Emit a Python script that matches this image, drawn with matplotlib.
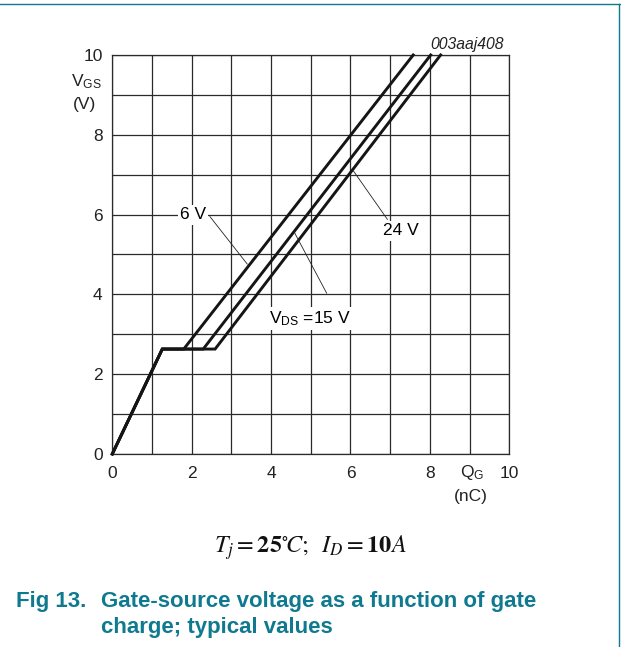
import matplotlib
matplotlib.use("Agg")
import matplotlib.pyplot as plt
from matplotlib.lines import Line2D
import numpy as np

# ---------------- data ----------------
# charge points (nC) of each curve: origin, plateau start, plateau end, top
curve_labels = ["6 V", "15 V", "24 V"]
qg_6v = [0.0, 1.26, 1.80, 7.58]
qg_15v = [0.0, 1.26, 2.29, 8.02]
qg_24v = [0.0, 1.26, 2.59, 8.27]
vgs_pts = [0.0, 2.63, 2.63, 10.0]

x_ticks = [0, 2, 4, 6, 8, 10]
x_tick_labels = ["0", "2", "4", "6", "8", "10"]
y_ticks = [0, 2, 4, 6, 8, 10]
y_tick_labels = ["0", "2", "4", "6", "8", "10"]

# annotation text positions and leader line ends (data units)
lbl_6v_text = (2.04, 5.99)
lbl_6v_leader = ([2.46, 3.40], [5.95, 4.76])
lbl_15v_text = (4.98, 3.40)
lbl_15v_leader = ([5.40, 4.60], [4.03, 5.53])
lbl_24v_text = (7.26, 5.59)
lbl_24v_leader = ([6.93, 6.07], [5.88, 7.10])

plt.rcParams['mathtext.fontset'] = 'custom'
plt.rcParams['mathtext.rm'] = 'Liberation Sans'
plt.rcParams['mathtext.it'] = 'Liberation Sans:italic'
plt.rcParams['mathtext.bf'] = 'Liberation Sans:bold'
plt.rcParams['font.family'] = ['Liberation Sans', 'DejaVu Sans']

TEAL = '#0f7a8f'
GRID = '#2a2a2a'

fig = plt.figure(figsize=(6.21, 6.47), dpi=100)
ax = fig.add_axes([0.1808, 0.2983, 0.6393, 0.6167])
ax.set_xlim(0, 10)
ax.set_ylim(0, 10)

# grid
for s in ax.spines.values():
    s.set_color(GRID)
    s.set_linewidth(0.9)
ax.set_xticks(x_ticks)
ax.set_xticklabels(x_tick_labels)
ax.set_yticks(y_ticks)
ax.set_yticklabels(y_tick_labels)
ax.set_xticks(np.arange(0, 11, 1), minor=True)
ax.set_yticks(np.arange(0, 11, 1), minor=True)
ax.grid(True, which='both', color=GRID, linewidth=0.9, zorder=0)
ax.set_axisbelow(True)
ax.tick_params(which='both', length=0)
ax.tick_params(axis='x', pad=9, labelsize=12.5, colors='#222222')
ax.tick_params(axis='y', pad=7, labelsize=12.5, colors='#222222')

# curves
for q in (qg_6v, qg_15v, qg_24v):
    ax.plot(q, vgs_pts, color='#151515', linewidth=2.1, solid_joinstyle='miter',
            zorder=3, clip_on=False)

# labels with leaders
bbox = dict(facecolor='white', edgecolor='none', pad=1.5)
ax.text(*lbl_6v_text, "6 V", fontsize=12.5, ha='center', va='center', bbox=bbox, zorder=4)
ax.plot(*lbl_6v_leader, color='#222222', linewidth=0.6, zorder=4)
ax.text(*lbl_15v_text, r"V$_{\mathregular{DS}}$ =15 V", fontsize=12.5, ha='center',
        va='center', bbox=bbox, zorder=4)
ax.plot(*lbl_15v_leader, color='#222222', linewidth=0.6, zorder=4)
ax.text(*lbl_24v_text, "24 V", fontsize=12.5, ha='center', va='center', bbox=bbox, zorder=4)
ax.plot(*lbl_24v_leader, color='#222222', linewidth=0.6, zorder=4)

# axis titles
fig.text(86 / 621, 1 - 82 / 647, r"V$_{\mathregular{GS}}$", fontsize=12.5, ha='center',
         va='center', color='#222222')
fig.text(84 / 621, 1 - 105 / 647, "(V)", fontsize=12.5, ha='center', va='center',
         color='#222222')
fig.text(472 / 621, 1 - 472 / 647, r"Q$_{\mathregular{G}}$", fontsize=12.5, ha='center',
         va='center', color='#222222')
fig.text(471 / 621, 1 - 497 / 647, "(nC)", fontsize=12.5, ha='center', va='center',
         color='#222222')

fig.text(504 / 621, 1 - 44 / 647, "003aaj408", fontsize=11.3, style='italic',
         ha='right', va='center', color='#222222')

# conditions formula
fig.text(310 / 621, 1 - 548 / 647, r"$T_j = \mathbf{25}{}^{\circ}\!C;\;\; I_D = \mathbf{10}A$",
         fontsize=17.5, ha='center', va='center', math_fontfamily='stix', color='#111111')

# caption
fig.text(16 / 621, 1 - 601 / 647, "Fig 13.", fontsize=16, fontweight='bold',
         color=TEAL, ha='left', va='center')
fig.text(101 / 621, 1 - 601 / 647, "Gate-source voltage as a function of gate",
         fontsize=16, fontweight='bold', color=TEAL, ha='left', va='center')
fig.text(101 / 621, 1 - 628 / 647, "charge; typical values",
         fontsize=16, fontweight='bold', color=TEAL, ha='left', va='center')

# page border lines
fig.add_artist(Line2D([0, 1], [1 - 4 / 647, 1 - 4 / 647], color=TEAL, linewidth=1.0,
                      transform=fig.transFigure))
fig.add_artist(Line2D([619 / 621, 619 / 621], [0, 1 - 4 / 647], color=TEAL, linewidth=1.0,
                      transform=fig.transFigure))

fig.savefig("out.png", dpi=100)
